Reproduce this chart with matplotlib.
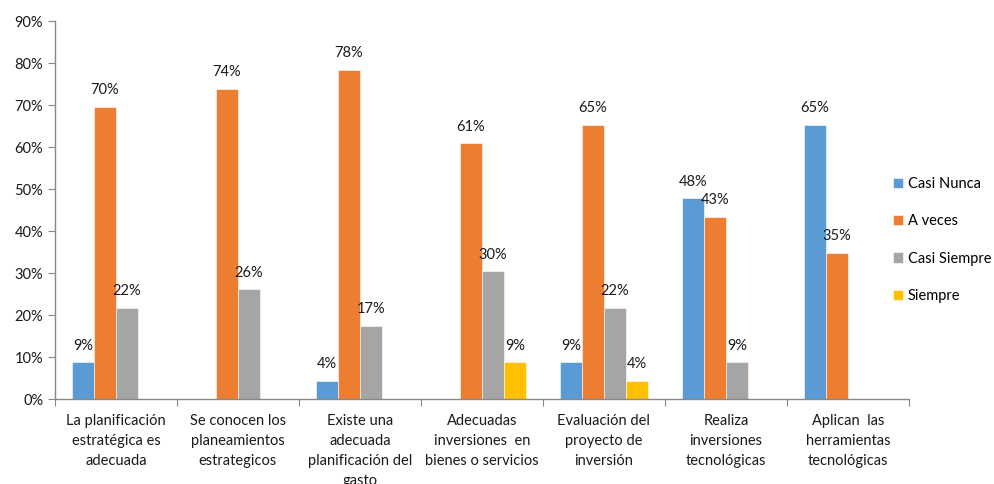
import numpy as np
import matplotlib
matplotlib.use("Agg")
import matplotlib.pyplot as plt
from matplotlib.ticker import PercentFormatter

plt.rcParams['font.family'] = ['Lato', 'DejaVu Sans']

categorias = [
    "La planificación\nestratégica es\nadecuada",
    "Se conocen los\nplaneamientos\nestrategicos",
    "Existe una\nadecuada\nplanificación del\ngasto",
    "Adecuadas\ninversiones  en\nbienes o servicios",
    "Evaluación del\nproyecto de\ninversión",
    "Realiza\ninversiones\ntecnológicas",
    "Aplican  las\nherramientas\ntecnológicas",
]

series = ["Casi Nunca", "A veces", "Casi Siempre", "Siempre"]
colores = ["#5B9BD5", "#ED7D31", "#A5A5A5", "#FFC000"]

casi_nunca = [8.7, 0, 4.3, 0, 8.7, 47.8, 65.2]
a_veces = [69.6, 73.9, 78.3, 60.9, 65.2, 43.4, 34.8]
casi_siempre = [21.7, 26.1, 17.4, 30.4, 21.7, 8.7, 0]
siempre = [0, 0, 0, 8.7, 4.3, 0, 0]

valores = [casi_nunca, a_veces, casi_siempre, siempre]

fig = plt.figure(figsize=(9.94, 4.84), dpi=100)
ax = fig.add_axes([0.0553, 0.1756, 0.859, 0.781])

x = np.arange(len(categorias))
ancho = 0.18
for i, (nombre, vals, col) in enumerate(zip(series, valores, colores)):
    pos = x + (i - 1.5) * ancho
    vals = np.array(vals, dtype=float)
    mask = vals > 0
    ax.bar(pos[mask], vals[mask], width=ancho, color=col, label=nombre,
           edgecolor='white', linewidth=0.4)
    for px, v in zip(pos[mask], vals[mask]):
        ax.annotate(f"{v:.0f}%", (px, v), xytext=(0, 7), textcoords='offset points',
                    ha='center', va='bottom', fontsize=10.5, color='#1a1a1a')

ax.set_xlim(-0.5, len(categorias) - 0.5)
ax.set_ylim(0, 90)
ax.set_yticks(np.arange(0, 91, 10))
ax.yaxis.set_major_formatter(PercentFormatter(decimals=0))

# ticks at category boundaries, labels at centers
ax.set_xticks(np.arange(-0.5, len(categorias)), minor=False)
ax.set_xticklabels([])
ax.set_xticks(x, minor=True)
ax.set_xticklabels(categorias, minor=True, fontsize=10.5, color='#1a1a1a',
                   linespacing=1.55, va='top')
ax.tick_params(axis='x', which='minor', length=0, pad=11)
ax.tick_params(axis='x', which='major', length=5, color='#888888')
ax.tick_params(axis='y', length=5, color='#888888', labelsize=10.5, labelcolor='#1a1a1a')

for s in ['top', 'right']:
    ax.spines[s].set_visible(False)
for s in ['left', 'bottom']:
    ax.spines[s].set_color('#888888')
    ax.spines[s].set_linewidth(1.0)

fig.legend(loc='center left', bbox_to_anchor=(893 / 994, 1 - 240 / 484), frameon=False,
           fontsize=10.5, handlelength=0.7, handleheight=0.7, handletextpad=0.3,
           labelspacing=1.6, borderaxespad=0, borderpad=0)

fig.savefig("out.png", dpi=100)
